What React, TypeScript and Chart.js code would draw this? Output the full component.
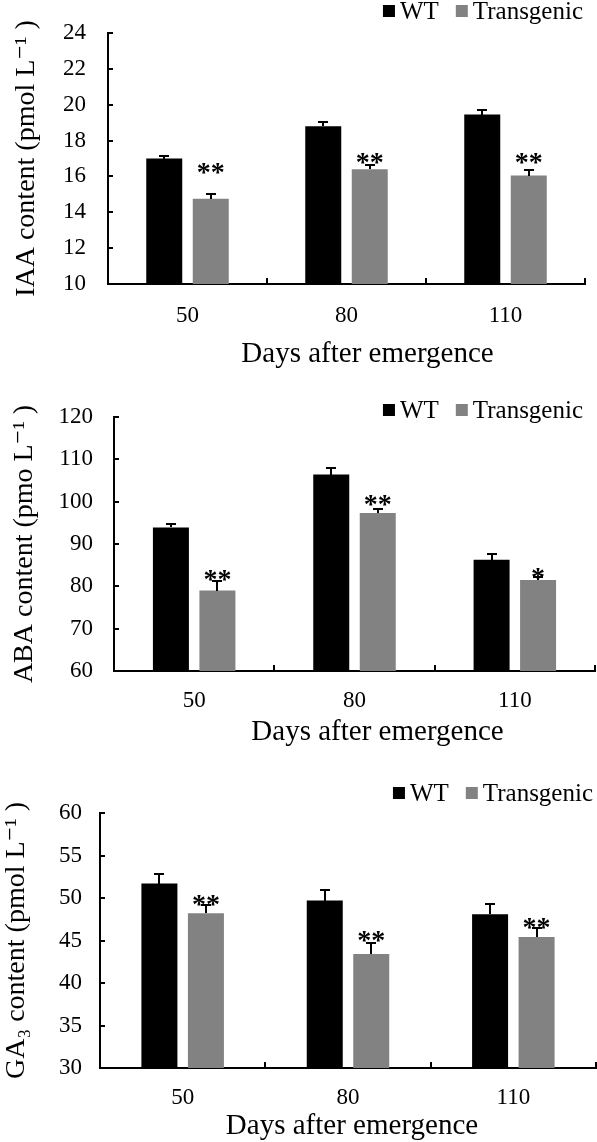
import React, { useEffect, useRef } from 'react';
import { Chart, registerables } from 'chart.js';

Chart.register(...registerables);

// ---------- data ----------
const days = ['50', '80', '110'];
const seriesNames = ['WT', 'Transgenic'];
const xTitle = 'Days after emergence';

const iaaWT = [17.0, 18.8, 19.45];
const iaaWTErr = [0.15, 0.24, 0.26];
const iaaTG = [14.75, 16.4, 16.05];
const iaaTGErr = [0.25, 0.22, 0.32];
const iaaStars = ['**', '**', '**'];
const iaaStarPos = [16.47, 17.03, 17.03];

const abaWT = [93.9, 106.4, 86.3];
const abaWTErr = [0.8, 1.5, 1.3];
const abaTG = [79.0, 97.3, 81.5];
const abaTGErr = [2.2, 1.0, 0.6];
const abaStars = ['**', '**', '*'];
const abaStarPos = [82.7, 100.4, 83.2];

const gaWT = [51.7, 49.7, 48.1];
const gaWTErr = [1.1, 1.2, 1.2];
const gaTG = [48.2, 43.4, 45.4];
const gaTGErr = [1.0, 1.3, 1.1];
const gaStars = ['**', '**', '**'];
const gaStarPos = [49.8, 45.6, 47.1];

const iaaTicks = { min: 10, max: 24, step: 2 };
const abaTicks = { min: 60, max: 120, step: 10 };
const gaTicks = { min: 30, max: 60, step: 5 };

const iaaTitle = 'IAA content (pmol L\u207B\u00B9 )';
const abaTitle = 'ABA content (pmo L\u207B\u00B9 )';
const gaTitle = 'GA\u2083 content (pmol L\u207B\u00B9 )';

// ---------- styles ----------
const FONT = '"Liberation Serif", "Times New Roman", "DejaVu Serif", serif';
const WT_COLOR = '#000000';
const TG_COLOR = '#828282';

const errorBarPlugin = {
  id: 'errorBars',
  afterDatasetsDraw(chart: any) {
    const ctx = chart.ctx;
    const y = chart.scales.y;
    chart.data.datasets.forEach((ds: any, i: number) => {
      const meta = chart.getDatasetMeta(i);
      const errs = ds.errors || [];
      meta.data.forEach((bar: any, j: number) => {
        const v = ds.data[j];
        const e = errs[j];
        if (e == null) return;
        const yTop = Math.round(y.getPixelForValue(v + e));
        const yBase = Math.round(y.getPixelForValue(v));
        const x = Math.round(bar.x);
        ctx.save();
        ctx.strokeStyle = '#000';
        ctx.lineWidth = 2;
        ctx.beginPath();
        ctx.moveTo(x, yBase);
        ctx.lineTo(x, yTop);
        ctx.moveTo(x - 5, yTop);
        ctx.lineTo(x + 5, yTop);
        ctx.stroke();
        ctx.restore();
      });
    });
  },
};

const starPlugin = {
  id: 'stars',
  afterDatasetsDraw(chart: any) {
    const ctx = chart.ctx;
    const y = chart.scales.y;
    const size = 28;
    chart.data.datasets.forEach((ds: any, i: number) => {
      if (!ds.stars) return;
      const meta = chart.getDatasetMeta(i);
      meta.data.forEach((bar: any, j: number) => {
        const s = ds.stars[j];
        if (!s) return;
        const py = y.getPixelForValue(ds.starPos[j]);
        ctx.save();
        ctx.fillStyle = '#000';
        ctx.font = `bold ${size}px ${FONT}`;
        ctx.textAlign = 'center';
        ctx.textBaseline = 'alphabetic';
        ctx.fillText(s, bar.x, py + size * 0.47);
        ctx.restore();
      });
    });
  },
};

const legendPlugin = {
  id: 'sideLegend',
  afterDraw(chart: any, _args: any, opts: any) {
    const ctx = chart.ctx;
    const fontSize = 25;
    const box = 12;
    const boxGap = 5;
    const itemGap = 17;
    ctx.save();
    ctx.font = `${fontSize}px ${FONT}`;
    ctx.textBaseline = 'middle';
    ctx.textAlign = 'left';
    const items = chart.data.datasets.map((ds: any) => ({
      label: ds.label,
      color: ds.backgroundColor,
      w: ctx.measureText(ds.label).width,
    }));
    let total = 0;
    items.forEach((it: any, k: number) => {
      total += box + boxGap + it.w + (k < items.length - 1 ? itemGap : 0);
    });
    let x = opts.right - total;
    const cy = opts.y;
    items.forEach((it: any) => {
      ctx.fillStyle = it.color;
      ctx.fillRect(x, cy - box / 2, box, box);
      x += box + boxGap;
      ctx.fillStyle = '#000';
      ctx.fillText(it.label, x, cy + 1);
      x += it.w + itemGap;
    });
    ctx.restore();
  },
};

const xTitlePlugin = {
  id: 'xTitle',
  afterDraw(chart: any, _args: any, opts: any) {
    const ctx = chart.ctx;
    const a = chart.chartArea;
    ctx.save();
    ctx.font = `29px ${FONT}`;
    ctx.fillStyle = '#000';
    ctx.textAlign = 'center';
    ctx.textBaseline = 'middle';
    ctx.fillText(opts.text, (a.left + a.right) / 2 + opts.shift, opts.y);
    ctx.restore();
  },
};

type Panel = {
  wt: number[];
  wtErr: number[];
  tg: number[];
  tgErr: number[];
  stars: string[];
  starPos: number[];
  ticks: { min: number; max: number; step: number };
  yTitle: string;
  top: number;
  height: number;
  area: { left: number; top: number; right: number; bottom: number };
  legend: { right: number; y: number };
  xTitlePos: { shift: number; y: number };
  yTickPad: number;
  yTitlePad: number;
  xTickPad: number;
};

const panels: Panel[] = [
  {
    wt: iaaWT, wtErr: iaaWTErr, tg: iaaTG, tgErr: iaaTGErr,
    stars: iaaStars, starPos: iaaStarPos, ticks: iaaTicks, yTitle: iaaTitle,
    top: 0, height: 380,
    area: { left: 108, top: 33, right: 585, bottom: 284 },
    legend: { right: 583, y: 11 },
    xTitlePos: { shift: 21, y: 354 },
    yTickPad: 27, yTitlePad: 13, xTickPad: 24,
  },
  {
    wt: abaWT, wtErr: abaWTErr, tg: abaTG, tgErr: abaTGErr,
    stars: abaStars, starPos: abaStarPos, ticks: abaTicks, yTitle: abaTitle,
    top: 380, height: 380,
    area: { left: 114, top: 37, right: 595, bottom: 291 },
    legend: { right: 583, y: 30 },
    xTitlePos: { shift: 23, y: 352 },
    yTickPad: 26, yTitlePad: 11, xTickPad: 22,
  },
  {
    wt: gaWT, wtErr: gaWTErr, tg: gaTG, tgErr: gaTGErr,
    stars: gaStars, starPos: gaStarPos, ticks: gaTicks, yTitle: gaTitle,
    top: 760, height: 382,
    area: { left: 100, top: 53, right: 596, bottom: 308 },
    legend: { right: 593, y: 33 },
    xTitlePos: { shift: 4, y: 366 },
    yTickPad: 23, yTitlePad: 3, xTickPad: 22,
  },
];

function BarPanel({ p }: { p: Panel }) {
  const ref = useRef<HTMLCanvasElement | null>(null);
  useEffect(() => {
    if (!ref.current) return;
    const catWidth = (p.area.right - p.area.left) / days.length;
    const group = 93;
    const chart = new Chart(ref.current, {
      type: 'bar',
      data: {
        labels: days,
        datasets: [
          {
            label: seriesNames[0],
            data: p.wt,
            backgroundColor: WT_COLOR,
            borderWidth: 0,
            errors: p.wtErr,
          } as any,
          {
            label: seriesNames[1],
            data: p.tg,
            backgroundColor: TG_COLOR,
            borderWidth: 0,
            errors: p.tgErr,
            stars: p.stars,
            starPos: p.starPos,
          } as any,
        ],
      },
      options: {
        animation: false,
        responsive: false,
        devicePixelRatio: 1,
        events: [],
        layout: {
          padding: { top: p.area.top, right: 597 - p.area.right, left: 0, bottom: 0 },
        },
        datasets: {
          bar: {
            categoryPercentage: group / catWidth,
            barPercentage: 36 / (group / 2),
          },
        },
        plugins: {
          legend: { display: false },
          tooltip: { enabled: false },
          sideLegend: p.legend,
          xTitle: { text: xTitle, shift: p.xTitlePos.shift, y: p.xTitlePos.y },
        } as any,
        scales: {
          x: {
            offset: true,
            grid: {
              offset: true,
              drawOnChartArea: false,
              drawTicks: true,
              tickLength: -6,
              color: '#000',
              lineWidth: 2,
            },
            border: { color: '#000', width: 2 },
            ticks: {
              color: '#000',
              padding: p.xTickPad,
              font: { family: FONT, size: 23 },
              maxRotation: 0,
            },
            title: { display: false },
            afterFit: (s: any) => {
              s.height = p.height - p.area.bottom;
              s.paddingLeft = 0;
              s.paddingRight = 0;
            },
          },
          y: {
            min: p.ticks.min,
            max: p.ticks.max,
            grid: {
              drawOnChartArea: false,
              drawTicks: true,
              tickLength: -5,
              color: '#000',
              lineWidth: 2,
            },
            border: { color: '#000', width: 2 },
            ticks: {
              stepSize: p.ticks.step,
              color: '#000',
              padding: p.yTickPad,
              font: { family: FONT, size: 23 },
            },
            title: {
              display: true,
              text: p.yTitle,
              color: '#000',
              font: { family: FONT, size: 28, lineHeight: 1 },
              padding: { top: p.yTitlePad, bottom: 0 },
            },
            afterFit: (s: any) => {
              s.width = p.area.left;
              s.paddingTop = 0;
              s.paddingBottom = 0;
            },
          },
        },
      } as any,
      plugins: [errorBarPlugin, starPlugin, legendPlugin, xTitlePlugin],
    });
    return () => chart.destroy();
  }, [p]);
  return (
    <canvas
      ref={ref}
      width={597}
      height={p.height}
      style={{ position: 'absolute', left: 0, top: p.top, width: 597, height: p.height, display: 'block' }}
    />
  );
}

export default function App() {
  return (
    <div style={{ position: 'absolute', left: 0, top: 0, width: 597, height: 1142, background: '#fff', overflow: 'hidden' }}>
      {panels.map((p, i) => (
        <BarPanel key={i} p={p} />
      ))}
    </div>
  );
}
